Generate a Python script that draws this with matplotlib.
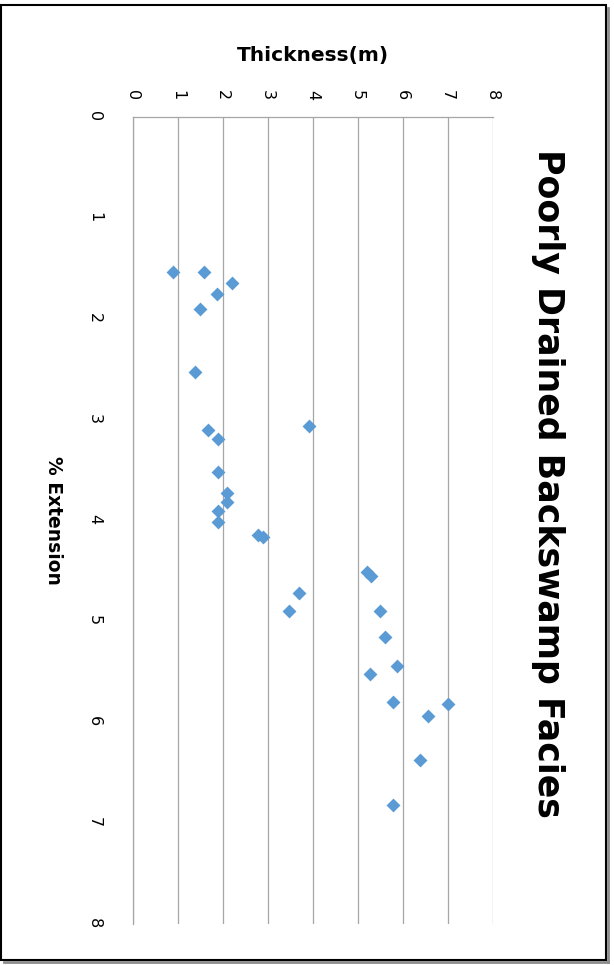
import matplotlib
matplotlib.use("Agg")
import matplotlib.pyplot as plt
from matplotlib.patches import Rectangle
from matplotlib.lines import Line2D

# thickness (m) and % extension for each sample
thickness = [0.89, 1.59, 2.20, 1.88, 1.50, 1.38, 3.92, 1.68, 1.89, 1.89,
             2.11, 2.11, 1.89, 1.89, 2.79, 2.90, 5.21, 5.29, 3.69, 3.48,
             5.50, 5.60, 5.88, 5.27, 5.78, 7.00, 6.57, 6.39, 5.79]
extension = [1.54, 1.54, 1.65, 1.75, 1.90, 2.53, 3.06, 3.10, 3.19, 3.52,
             3.73, 3.82, 3.91, 4.01, 4.14, 4.16, 4.51, 4.55, 4.72, 4.90,
             4.90, 5.15, 5.44, 5.52, 5.80, 5.82, 5.94, 6.37, 6.82]
ticks = [0, 1, 2, 3, 4, 5, 6, 7, 8]

title = "Poorly Drained Backswamp Facies"
thick_label = "Thickness(m)"
ext_label = "% Extension"

W, H = 614, 965
fig = plt.figure(figsize=(W / 100, H / 100), dpi=100)

# chart is laid out turned on its side
ax = fig.add_axes([132.5 / W, 1 - 924 / H, 360 / W, (924 - 117) / H])
ax.scatter(thickness, extension, marker="D", s=50, color="#5B9BD5",
           linewidths=0, zorder=3)

ax.set_xlim(0, 8)
ax.set_ylim(8, 0)
ax.set_xticks(ticks)
ax.set_yticks(ticks)
ax.xaxis.tick_top()
ax.grid(axis="x", color="#A6A6A6", linewidth=0.9)
ax.tick_params(length=0, labelsize=11.5)
ax.tick_params(axis="x", pad=12)
ax.tick_params(axis="y", pad=22)
for lbl in ax.get_xticklabels() + ax.get_yticklabels():
    lbl.set_rotation(-90)

for side in ["right", "bottom"]:
    ax.spines[side].set_visible(False)
for side in ["left", "top"]:
    ax.spines[side].set_color("#A6A6A6")
    ax.spines[side].set_linewidth(0.9)

fig.text(312.5 / W, 1 - 56 / H, thick_label, ha="center", va="center",
         fontsize=14.5, fontweight="bold")
fig.text(53 / W, 1 - 520 / H, ext_label, ha="center", va="center",
         rotation=-90, fontsize=13.5, fontweight="bold")
fig.text(548 / W, 1 - 483 / H, title, ha="center", va="center",
         rotation=-90, fontsize=25, fontweight="bold")

# outer frame with a grey drop shadow
fig.add_artist(Line2D([608 / W, 608 / W], [1 - 8 / H, 1 - 962 / H],
                      color="#8C8C8C", linewidth=2, transform=fig.transFigure))
fig.add_artist(Line2D([4 / W, 608 / W], [1 - 962 / H, 1 - 962 / H],
                      color="#8C8C8C", linewidth=2, transform=fig.transFigure))
fig.add_artist(Rectangle((1 / W, 1 - 960 / H), 605 / W, 955 / H,
                         fill=False, edgecolor="black", linewidth=1.5,
                         transform=fig.transFigure))

fig.savefig("out.png", dpi=100)
